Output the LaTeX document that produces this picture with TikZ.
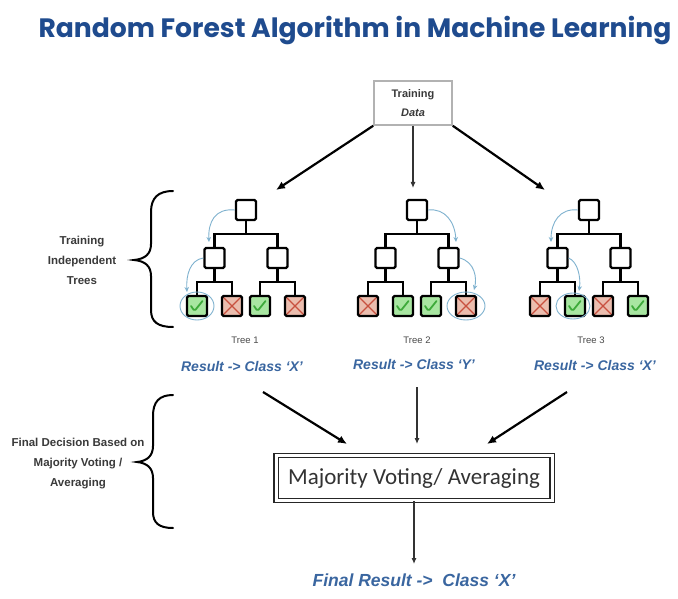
\documentclass[tikz,border=0pt]{standalone}
\usepackage{fontspec}
\setmainfont{Liberation Sans}
\newfontfamily\titlefont{Poppins}
\newfontfamily\votefont{Carlito}
\usetikzlibrary{arrows.meta,calc}

\definecolor{titleblue}{HTML}{1F4B8E}
\definecolor{resblue}{HTML}{3A66A0}
\definecolor{hintblue}{HTML}{7FB2CF}
\definecolor{okfill}{HTML}{A8E6A1}
\definecolor{okmark}{HTML}{3DAA3A}
\definecolor{nofill}{HTML}{EBBDAE}
\definecolor{nomark}{HTML}{C8513F}
\definecolor{labelgray}{HTML}{3A3A3A}
\definecolor{treegray}{HTML}{4A4A4A}

\tikzset{
  tbox/.style={draw=black, line width=2.4pt, minimum size=20pt, inner sep=0pt,
               rounded corners=1.5pt, fill=white},
  link/.style={draw=black, line width=2.4pt},
  yes/.style={fill=okfill, path picture={
      \draw[okmark, line width=1.8pt, line cap=round, line join=round]
        ($(path picture bounding box.center)+(-6,0)$) -- ++(3.5,5) -- ++(8,-10);}},
  no/.style={fill=nofill, path picture={
      \draw[nomark, line width=1.3pt]
        (path picture bounding box.south west) -- (path picture bounding box.north east)
        (path picture bounding box.north west) -- (path picture bounding box.south east);}},
  hint/.style={draw=hintblue, line width=0.9pt, -{Stealth[length=5pt,width=4.5pt]}},
  hintring/.style={draw=hintblue, line width=0.9pt},
  bigarrow/.style={draw=black, line width=2.2pt, -{Latex[length=9pt,width=8pt]}},
  thinarrow/.style={draw=black!80, line width=1.1pt, -{Latex[length=6pt,width=5pt]}},
  sidelabel/.style={font=\bfseries\fontsize{11.5}{20}\selectfont, text=labelgray, align=center},
  treelabel/.style={font=\fontsize{9.5}{11}\selectfont, text=treegray},
  result/.style={font=\bfseries\itshape\fontsize{14}{16}\selectfont, text=resblue},
  brace/.style={draw=black, line width=2pt, line cap=round},
}

% one decision tree: #1 name prefix, #2 centre x, #3-#6 leaf styles
\newcommand{\rftree}[6]{%
  \node[tbox] (#1r) at (#2,210) {};
  \node[tbox] (#1a) at ({#2-31.5},258) {};
  \node[tbox] (#1b) at ({#2+31.5},258) {};
  \node[tbox,#3] (#1l1) at ({#2-49},306) {};
  \node[tbox,#4] (#1l2) at ({#2-14},306) {};
  \node[tbox,#5] (#1l3) at ({#2+14},306) {};
  \node[tbox,#6] (#1l4) at ({#2+49},306) {};
  \draw[link] (#1r.south) -- ($(#1a.north)!0.5!(#1b.north)+(0,-13)$);
  \draw[link] (#1a.north) -- ++(0,-13) -| (#1b.north);
  \draw[link] (#1a.south) -- ($(#1l1.north)!0.5!(#1l2.north)+(0,-13)$);
  \draw[link] (#1l1.north) -- ++(0,-13) -| (#1l2.north);
  \draw[link] (#1b.south) -- ($(#1l3.north)!0.5!(#1l4.north)+(0,-13)$);
  \draw[link] (#1l3.north) -- ++(0,-13) -| (#1l4.north);
}

\begin{document}
\begin{tikzpicture}[x=1pt,y=-1pt]
\useasboundingbox[fill=white] (0,0) rectangle (678,599);

% title
\node[font=\titlefont\bfseries\fontsize{26.6}{32}\selectfont, text=titleblue] (title) at (355,31)
  {Random Forest Algorithm in Machine Learning};

% training data
\node[draw=black!30, line width=1.5pt, minimum width=78pt, minimum height=44pt, align=center,
      font=\bfseries\fontsize{11}{19}\selectfont, text=labelgray] (td) at (413,103)
  {Training\\\textit{Data}};

\coordinate (e1) at (276,190);
\coordinate (e2) at (413,188);
\coordinate (e3) at (545,190);
\draw[bigarrow] (td.south west) -- (e1);
\draw[thinarrow] (td.south) -- (e2);
\draw[bigarrow] (td.south east) -- (e3);

% the three trees
\rftree{t1}{246}{yes}{no}{yes}{no}
\rftree{t2}{417}{no}{yes}{yes}{no}
\rftree{t3}{589}{no}{yes}{no}{yes}

% decision paths through each tree
\draw[hint] (t1r.west) .. controls (215,208) and (208,222) .. (209,242);
\draw[hint] (t1a.west) .. controls (190,260) and (186,275) .. (187,292);
\draw[hintring] (t1l1) ellipse [x radius=17pt, y radius=14pt];

\draw[hint] (t2r.east) .. controls (445,208) and (455,222) .. (456,242);
\draw[hint] (t2b.east) .. controls (475,262) and (477,278) .. (474,290);
\draw[hintring] (t2l4) ellipse [x radius=19pt, y radius=14pt];

\draw[hint] (t3r.west) .. controls (560,208) and (551,222) .. (551,242);
\draw[hint] (t3a.east) .. controls (578,262) and (581,278) .. (579,291);
\draw[hintring] ($(t3l2)+(-2,0)$) ellipse [x radius=17pt, y radius=13pt];

% tree captions and results
\node[treelabel] (n1) at (245,340) {Tree 1};
\node[treelabel] (n2) at (417,340) {Tree 2};
\node[treelabel] (n3) at (591,340) {Tree 3};
\node[result] (r1) at (242,366) {Result -> Class ‘X’};
\node[result] (r2) at (414,364) {Result -> Class ‘Y’};
\node[result] (r3) at (595,365) {Result -> Class ‘X’};

% voting box
\node[draw=black!85, line width=1.3pt, double, double distance=3pt,
      minimum width=276pt, minimum height=45pt,
      font=\votefont\fontsize{23}{26}\selectfont, text=black!80] (vote) at (414,478)
  {Majority Voting/ Averaging};

\coordinate (s1) at (263,392);
\coordinate (s2) at (417,387);
\coordinate (s3) at (567,392);
\coordinate (v1) at (347,444);
\coordinate (v2) at (417,444);
\coordinate (v3) at (487,444);
\draw[bigarrow] (s1) -- (v1);
\draw[thinarrow] (s2) -- (v2);
\draw[bigarrow] (s3) -- (v3);

\coordinate (fin) at (414,564);
\draw[thinarrow] (vote.south) -- (fin);
\node[font=\bfseries\itshape\fontsize{17.5}{20}\selectfont, text=resblue] (final) at (414,580)
  {Final Result -> \ Class ‘X’};

% side braces and their labels
\draw[brace] (173,191) .. controls (158,191) and (151,198) .. (151,212) -- (151,244)
  .. controls (151,254) and (145,259) .. (134,260)
  .. controls (145,261) and (151,266) .. (151,276) -- (151,310)
  .. controls (151,322) and (158,327) .. (173,327);
\node[sidelabel] (lt) at (82,260) {Training\\Independent\\Trees};

\draw[brace] (173,395) .. controls (159,395) and (153,402) .. (153,416) -- (153,446)
  .. controls (153,456) and (147,461) .. (137,462)
  .. controls (147,463) and (153,468) .. (153,478) -- (153,512)
  .. controls (153,523) and (159,528) .. (173,528);
\node[sidelabel] (lf) at (78,464) {Final Decision Based on\\Majority Voting /\\Averaging};
\end{tikzpicture}
\end{document}
